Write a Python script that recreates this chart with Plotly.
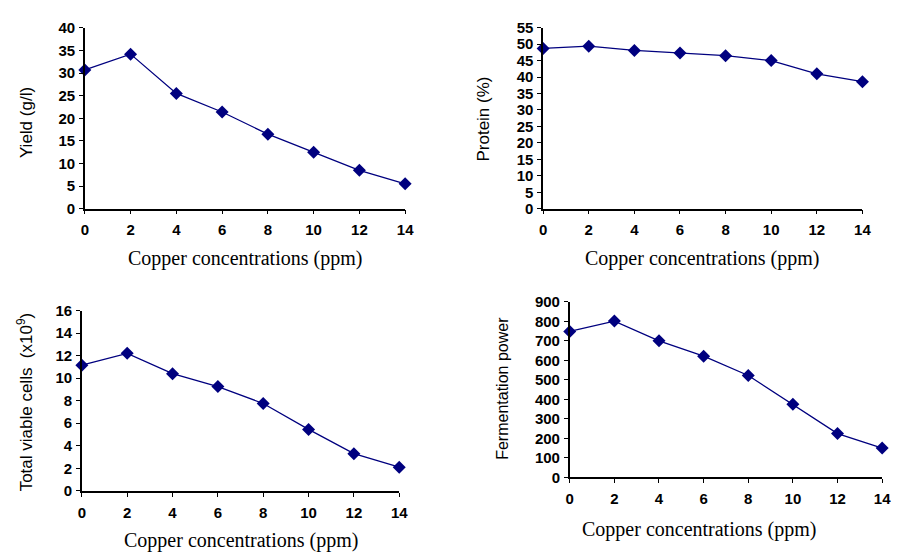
import plotly.graph_objects as go

conc = [0, 2, 4, 6, 8, 10, 12, 14]
yield_gl = [30.7, 34.2, 25.5, 21.4, 16.5, 12.5, 8.5, 5.5]
protein = [48.7, 49.4, 48.1, 47.3, 46.5, 45.0, 41.0, 38.6]
viable = [11.15, 12.2, 10.4, 9.25, 7.75, 5.45, 3.3, 2.1]
ferment = [748, 801, 700, 621, 522, 375, 224, 150]

x_title = "Copper concentrations (ppm)"
y_titles = ["Yield (g/l)", "Protein (%)", "Total viable cells  (x10<sup>9</sup>)", "Fermentation power"]

W, H = 902, 558
# pixel boxes: (left, right, top, bottom)
boxes = [(82, 407, 19.5, 206), (547, 871, 19.3, 206), (79, 401, 311, 497), (574, 891, 302, 483)]
yranges = [(0, 40, 5), (0, 55, 5), (0, 16, 2), (0, 900, 100)]
series = [yield_gl, protein, viable, ferment]
xtitle_pos = [(245, 257), (708, 257), (240, 548), (705, 537)]
ytitle_pos = [(23, 117), (487, 113), (21, 405), (505, 391)]
ytitle_size = [17, 17, 17, 16]

navy = "#00007F"
fig = go.Figure()
layout = dict(width=W, height=H, margin=dict(l=0, r=0, t=0, b=0),
              plot_bgcolor="white", paper_bgcolor="white", showlegend=False)
annotations = []
for i in range(4):
    l, r, t, b = boxes[i]
    xa = "xaxis" if i == 0 else f"xaxis{i+1}"
    ya = "yaxis" if i == 0 else f"yaxis{i+1}"
    xref = "x" if i == 0 else f"x{i+1}"
    yref = "y" if i == 0 else f"y{i+1}"
    fig.add_trace(go.Scatter(x=conc, y=series[i], mode="lines+markers", xaxis=xref, yaxis=yref,
                             line=dict(color=navy, width=1.3),
                             marker=dict(symbol="diamond", size=10, color=navy),
                             cliponaxis=False))
    y0, y1, dt = yranges[i]
    tickfont = dict(family="Liberation Sans, Arial", size=15, color="black", weight="bold")
    layout[xa] = dict(domain=[l / W, r / W], anchor=yref, range=[0, 14], tickmode="array",
                      tickvals=conc, ticks="outside", ticklen=4, tickcolor="black",
                      showline=True, linecolor="black", linewidth=1.5, showgrid=False,
                      zeroline=False, tickfont=tickfont, ticklabelstandoff=3)
    layout[ya] = dict(domain=[1 - b / H, 1 - t / H], anchor=xref, range=[y0, y1],
                      dtick=dt, tick0=0, ticks="outside", ticklen=4, tickcolor="black",
                      showline=True, linecolor="black", linewidth=1.5, showgrid=False,
                      zeroline=False, tickfont=tickfont, ticklabelstandoff=1)
    xp, yp = xtitle_pos[i]
    annotations.append(dict(text=x_title, x=xp / W, y=1 - yp / H, xref="paper", yref="paper",
                            showarrow=False, xanchor="center", yanchor="middle",
                            font=dict(family="Liberation Serif, Times New Roman", size=20, color="black")))
    xp, yp = ytitle_pos[i]
    annotations.append(dict(text=y_titles[i], x=xp / W, y=1 - yp / H, xref="paper", yref="paper",
                            showarrow=False, xanchor="center", yanchor="middle", textangle=-90,
                            font=dict(family="Liberation Sans, Arial", size=ytitle_size[i], color="black")))
layout["annotations"] = annotations
fig.update_layout(**layout)
fig.write_html("out.html")
